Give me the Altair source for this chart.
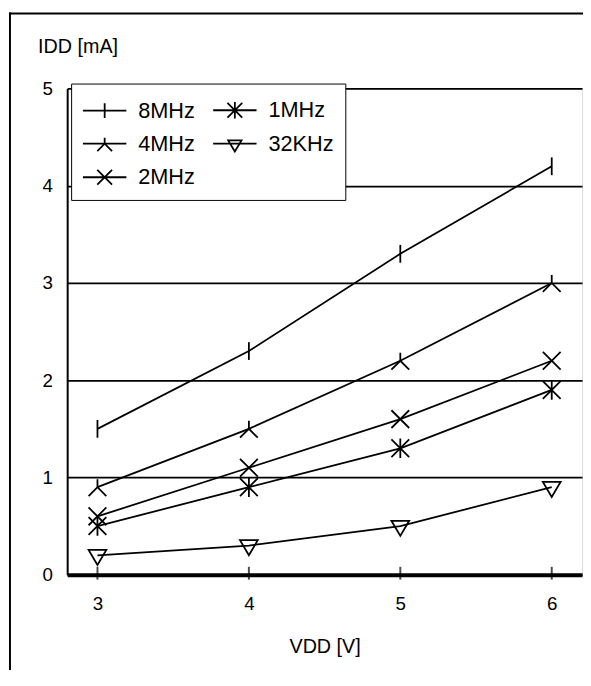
import altair as alt
import pandas as pd

# ---- data ----
voltages = [3, 4, 5, 6]
series_names = ["8MHz", "4MHz", "2MHz", "1MHz", "32KHz"]
idd_8mhz = [1.5, 2.3, 3.3, 4.2]
idd_4mhz = [0.9, 1.5, 2.2, 3.0]
idd_2mhz = [0.6, 1.1, 1.6, 2.2]
idd_1mhz = [0.5, 0.9, 1.3, 1.9]
idd_32khz = [0.2, 0.3, 0.5, 0.9]
x_ticks = [3, 4, 5, 6]
y_ticks = [0, 1, 2, 3, 4, 5]

series_values = [idd_8mhz, idd_4mhz, idd_2mhz, idd_1mhz, idd_32khz]
rows = []
for name, vals in zip(series_names, series_values):
    for v, i in zip(voltages, vals):
        rows.append({"series": name, "vdd": v, "idd": i})
df = pd.DataFrame(rows)

# ---- marker shapes ----
plot_paths = {
    "8MHz": "M0,-1L0,1",
    "4MHz": "M0,-0.9L0,0M-1,1L0,0L1,1",
    "2MHz": "M-1,-1L1,1M-1,1L1,-1",
    "1MHz": "M-1,-1L1,1M-1,1L1,-1M0,-1.1L0,1.1",
    "32KHz": "M-1,-0.6L1,-0.6L0,1.1Z",
}
# legend symbols: a line segment with the marker in its middle
legend_paths = {
    "8MHz": "M-1,0L1.933,0M0.467,-0.5L0.467,0.5",
    "4MHz": "M-1,0L1.933,0M0.467,-0.4L0.467,0M-0.033,0.5L0.467,0L0.967,0.5",
    "2MHz": "M-1,0L1.933,0M-0.033,-0.5L0.967,0.5M-0.033,0.5L0.967,-0.5",
    "1MHz": "M-1,0L1.933,0M-0.033,-0.5L0.967,0.5M-0.033,0.5L0.967,-0.5M0.467,-0.55L0.467,0.55",
    "32KHz": "M-1,0L1.933,0M0.017,-0.22L0.917,-0.22L0.467,0.53Z",
}

W, H = 522, 493
FONT = "Liberation Sans"

x_scale = alt.Scale(domain=[2.8, 6.2], nice=False, zero=False)
y_scale = alt.Scale(domain=[0, 5], nice=False)

x_enc = alt.X(
    "vdd:Q",
    scale=x_scale,
    axis=alt.Axis(
        values=x_ticks,
        format="d",
        title="VDD [V]",
        grid=False,
        ticks=False,
        domainColor="black",
        domainWidth=4,
        labelFontSize=19,
        labelColor="black",
        labelPadding=20,
        labelFont=FONT,
        titleFont=FONT,
        titleFontSize=20,
        titleFontWeight="normal",
        titleColor="black",
        titleBaseline="alphabetic",
        titleY=79,
    ),
)
y_enc = alt.Y(
    "idd:Q",
    scale=y_scale,
    axis=alt.Axis(
        values=y_ticks,
        format="d",
        title="IDD [mA]",
        grid=True,
        gridColor="black",
        gridWidth=1.8,
        gridOpacity=1,
        ticks=False,
        domainColor="black",
        domainWidth=2,
        labelFontSize=19,
        labelColor="black",
        labelPadding=15,
        labelFont=FONT,
        titleFont=FONT,
        titleFontSize=20,
        titleFontWeight="normal",
        titleColor="black",
        titleAngle=0,
        titleAlign="left",
        titleBaseline="alphabetic",
        titleX=-30,
        titleY=-36,
    ),
)

base = alt.Chart(df)

lines = base.mark_line(color="black", strokeWidth=1.8).encode(
    x=x_enc, y=y_enc, detail="series:N"
)

points = base.mark_point(
    filled=False, color="black", strokeWidth=1.8, size=324, opacity=1
).encode(
    x=alt.X("vdd:Q", scale=x_scale),
    y=alt.Y("idd:Q", scale=y_scale),
    shape=alt.Shape(
        "series:N",
        scale=alt.Scale(domain=series_names, range=[plot_paths[s] for s in series_names]),
        legend=None,
    ),
)

legend_layer = base.transform_filter("false").mark_point(
    filled=False, color="black", strokeWidth=1.8, opacity=1
).encode(
    x=alt.X("vdd:Q", scale=x_scale),
    y=alt.Y("idd:Q", scale=y_scale),
    shape=alt.Shape(
        "series:N",
        scale=alt.Scale(domain=series_names, range=[legend_paths[s] for s in series_names]),
        legend=alt.Legend(
            title=None,
            orient="none",
            legendX=4,
            legendY=-5,
            columns=2,
            columnPadding=14,
            rowPadding=6,
            padding=11,
            symbolSize=900,
            symbolStrokeWidth=1.8,
            symbolStrokeColor="black",
            symbolFillColor="transparent",
            symbolOpacity=1,
            labelFont=FONT,
            labelFontSize=22,
            labelColor="black",
            labelOffset=25,
            labelLimit=300,
            strokeColor="black",
            fillColor="white",
        ),
    ),
)

tick_df = pd.DataFrame({"vdd": x_ticks})
x_tick_marks = alt.Chart(tick_df).mark_tick(
    color="black", thickness=2, size=13, orient="vertical"
).encode(x=alt.X("vdd:Q", scale=x_scale), y=alt.value(H - 1.5))

one = pd.DataFrame({"a": [0]})
frame_left = alt.Chart(one).mark_rule(color="black", strokeWidth=2).encode(
    x=alt.value(-58), y=alt.value(-77), y2=alt.value(H + 110)
)
frame_top = alt.Chart(one).mark_rule(color="black", strokeWidth=2).encode(
    x=alt.value(-59), x2=alt.value(W + 10), y=alt.value(-76)
)

chart = (
    alt.layer(frame_left, frame_top, lines, points, x_tick_marks, legend_layer)
    .resolve_scale(shape="independent")
    .properties(
        width=W,
        height=H,
        autosize=alt.AutoSizeParams(type="none"),
        padding={"left": 60, "top": 77, "right": 1, "bottom": 92},
        background="white",
    )
    .configure_view(stroke="#555555", strokeWidth=1)
    .configure_legend(strokeWidth=2, cornerRadius=0)
    .configure(font=FONT)
)

chart.save("out.html", embed_options={"renderer": "svg", "actions": False})
